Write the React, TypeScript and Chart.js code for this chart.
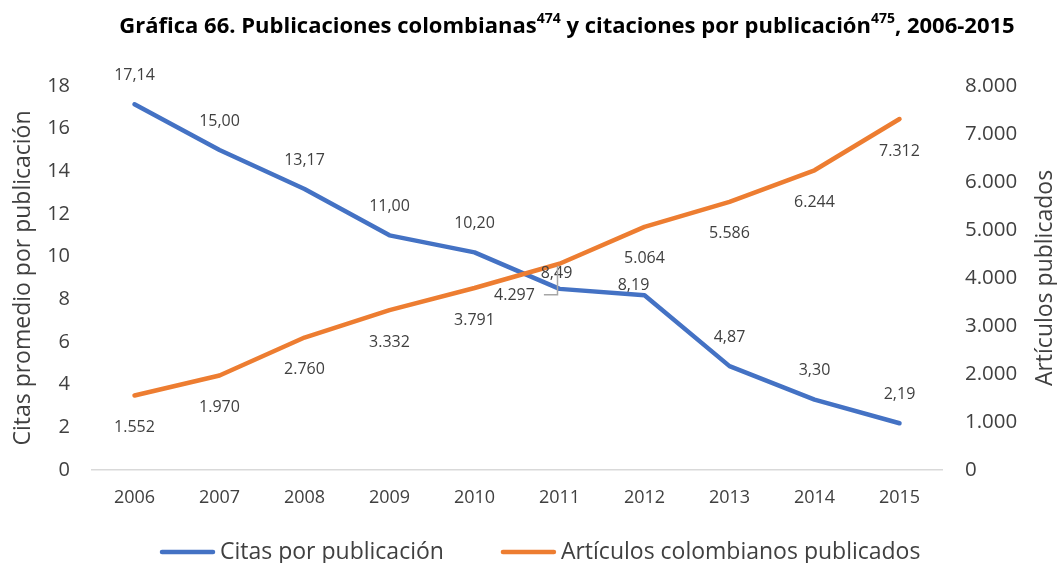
import React, { useEffect, useRef } from "react";
import { Chart, registerables } from "chart.js";

Chart.register(...registerables);

const years = ["2006", "2007", "2008", "2009", "2010", "2011", "2012", "2013", "2014", "2015"];
const citasPorPublicacion = [17.14, 15.0, 13.17, 11.0, 10.2, 8.49, 8.19, 4.87, 3.3, 2.19];
const articulosPublicados = [1552, 1970, 2760, 3332, 3791, 4297, 5064, 5586, 6244, 7312];
const seriesNames = ["Citas por publicación", "Artículos colombianos publicados"];
const titleParts = [
  { text: "Gráfica 66. Publicaciones colombianas", sup: false },
  { text: "474", sup: true },
  { text: " y citaciones por publicación", sup: false },
  { text: "475", sup: true },
  { text: ", 2006-2015", sup: false },
];
const leftAxisTitle = "Citas promedio por publicación";
const rightAxisTitle = "Artículos publicados";

const BLUE = "#4472C4";
const ORANGE = "#ED7D31";
const TEXT = "#404040";
const FONT = '"Open Sans", "Noto Sans", sans-serif';

const fmtCitas = (v: number) => v.toFixed(2).replace(".", ",");
const fmtThousands = (v: number) => String(Math.round(v)).replace(/\B(?=(\d{3})+(?!\d))/g, ".");

// label placement (pixel offsets from the point), kept apart from the data
const labelOffsets = [
  { base: [0, -29], special: { 5: [-3, -15], 6: [-11, -10] } as Record<number, number[]> },
  { base: [0, 32], special: { 5: [-45, 32] } as Record<number, number[]> },
];

const overlayPlugin = {
  id: "overlay",
  afterDatasetsDraw(chart: any) {
    const ctx = chart.ctx as CanvasRenderingContext2D;
    ctx.save();
    ctx.font = `16px ${FONT}`;
    ctx.fillStyle = TEXT;
    ctx.textAlign = "center";
    ctx.textBaseline = "middle";
    chart.data.datasets.forEach((ds: any, di: number) => {
      const meta = chart.getDatasetMeta(di);
      const offs = labelOffsets[di];
      meta.data.forEach((pt: any, i: number) => {
        const o = offs.special[i] || offs.base;
        const v = ds.data[i];
        const txt = di === 0 ? fmtCitas(v) : fmtThousands(v);
        const x = pt.x + o[0];
        const y = pt.y + o[1];
        ctx.fillText(txt, x, y);
        if (di === 1 && offs.special[i]) {
          const w = ctx.measureText(txt).width;
          ctx.strokeStyle = "#A6A6A6";
          ctx.lineWidth = 1.5;
          ctx.beginPath();
          ctx.moveTo(x + w / 2 + 9, y - 1);
          ctx.lineTo(pt.x - 2, y - 1);
          ctx.lineTo(pt.x - 2, pt.y + 2);
          ctx.stroke();
        }
      });
    });
    ctx.restore();
  },
  afterDraw(chart: any) {
    const ctx = chart.ctx as CanvasRenderingContext2D;
    const area = chart.chartArea;
    ctx.save();
    // title
    const mainFont = `bold 22px ${FONT}`;
    const supFont = `bold 14px ${FONT}`;
    let total = 0;
    const widths = titleParts.map((p) => {
      ctx.font = p.sup ? supFont : mainFont;
      const w = ctx.measureText(p.text).width;
      total += w;
      return w;
    });
    let x = 567 - total / 2;
    ctx.fillStyle = "#000";
    ctx.textAlign = "left";
    ctx.textBaseline = "middle";
    titleParts.forEach((p, i) => {
      ctx.font = p.sup ? supFont : mainFont;
      ctx.fillText(p.text, x, p.sup ? 19 : 27);
      x += widths[i];
    });
    // axis titles
    const midY = (area.top + area.bottom) / 2;
    ctx.font = `23px ${FONT}`;
    ctx.fillStyle = TEXT;
    ctx.textAlign = "center";
    [[23, leftAxisTitle], [1045, rightAxisTitle]].forEach(([ax, t]) => {
      ctx.save();
      ctx.translate(ax as number, midY);
      ctx.rotate(-Math.PI / 2);
      ctx.fillText(t as string, 0, 0);
      ctx.restore();
    });
    // legend
    ctx.font = `23px ${FONT}`;
    ctx.textAlign = "left";
    let lx = 160;
    const ly = 552;
    chart.data.datasets.forEach((ds: any) => {
      ctx.strokeStyle = ds.borderColor;
      ctx.lineWidth = 4.5;
      ctx.lineCap = "round";
      ctx.beginPath();
      ctx.moveTo(lx + 2, ly);
      ctx.lineTo(lx + 53, ly);
      ctx.stroke();
      ctx.fillStyle = TEXT;
      ctx.fillText(ds.label, lx + 60, ly);
      lx += 60 + ctx.measureText(ds.label).width + 57;
    });
    ctx.restore();
  },
};

export default function App() {
  const ref = useRef<HTMLCanvasElement | null>(null);
  useEffect(() => {
    if (!ref.current) return;
    const chart = new Chart(ref.current, {
      type: "line",
      data: {
        labels: years,
        datasets: [
          {
            label: seriesNames[0],
            data: citasPorPublicacion,
            borderColor: BLUE,
            backgroundColor: BLUE,
            borderWidth: 4.5,
            pointRadius: 0,
            tension: 0,
            borderCapStyle: "round",
            borderJoinStyle: "round",
            yAxisID: "y",
            order: 1,
          },
          {
            label: seriesNames[1],
            data: articulosPublicados,
            borderColor: ORANGE,
            backgroundColor: ORANGE,
            borderWidth: 4.5,
            pointRadius: 0,
            tension: 0,
            borderCapStyle: "round",
            borderJoinStyle: "round",
            yAxisID: "y1",
            order: 0,
          },
        ],
      },
      options: {
        animation: false,
        responsive: false,
        devicePixelRatio: 1,
        layout: { padding: { top: 86, left: 0, right: 0, bottom: 53 } },
        plugins: { legend: { display: false }, tooltip: { enabled: false }, title: { display: false } },
        scales: {
          x: {
            type: "category",
            offset: true,
            grid: { display: false, drawTicks: false },
            border: { display: true, color: "#D9D9D9", width: 1.5 },
            ticks: { color: TEXT, font: { family: FONT, size: 18 }, padding: 17, maxRotation: 0 },
            afterFit: (s: any) => {
              s.height = 40;
            },
          },
          y: {
            position: "left",
            min: 0,
            max: 18,
            grid: { display: false, drawTicks: false },
            border: { display: false },
            ticks: { stepSize: 2, color: TEXT, font: { family: FONT, size: 20 }, padding: 22 },
            afterFit: (s: any) => {
              s.width = 92;
            },
          },
          y1: {
            position: "right",
            min: 0,
            max: 8000,
            grid: { display: false, drawTicks: false },
            border: { display: false },
            ticks: {
              stepSize: 1000,
              color: TEXT,
              font: { family: FONT, size: 20.5 },
              padding: 23,
              callback: (v: any) => fmtThousands(Number(v)),
            },
            afterFit: (s: any) => {
              s.width = 115;
            },
          },
        },
      },
      plugins: [overlayPlugin],
    } as any);
    return () => chart.destroy();
  }, []);
  return (
    <div style={{ position: "fixed", left: 0, top: 0, width: 1057, height: 563, background: "#fff" }}>
      <canvas ref={ref} width={1057} height={563} />
    </div>
  );
}
